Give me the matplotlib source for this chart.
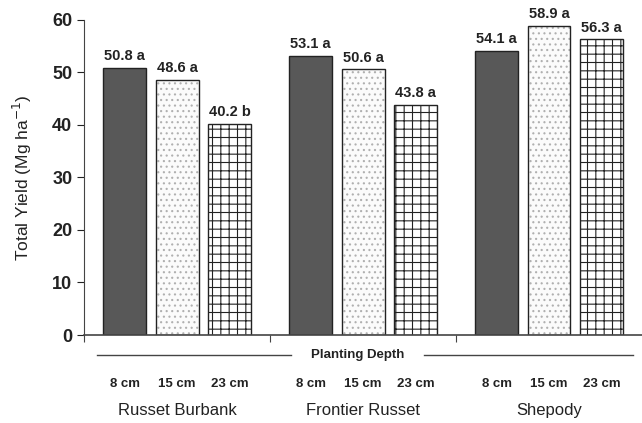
import matplotlib
matplotlib.use("Agg")
import matplotlib.pyplot as plt
import numpy as np

plt.rcParams['font.family'] = ['Liberation Sans', 'DejaVu Sans']
plt.rcParams['hatch.linewidth'] = 0.8

# data
cultivars = ["Russet Burbank", "Frontier Russet", "Shepody"]
depths = ["8 cm", "15 cm", "23 cm"]
yield_8 = [50.8, 53.1, 54.1]
yield_15 = [48.6, 50.6, 58.9]
yield_23 = [40.2, 43.8, 56.3]
letters_8 = ["a", "a", "a"]
letters_15 = ["a", "a", "a"]
letters_23 = ["b", "a", "a"]

fig = plt.figure(figsize=(6.42, 4.23), dpi=100)
ax = fig.add_axes([0.131, 0.208, 0.869, 0.745])

x = np.arange(len(cultivars))
width = 0.231
offsets = [-0.282, 0.0, 0.282]
series = [yield_8, yield_15, yield_23]
letters = [letters_8, letters_15, letters_23]
# estilo de cada profundidade
styles = [
    dict(facecolor="#585858", hatch=None, hc="#585858"),
    dict(facecolor="#fbfbfb", hatch="...", hc="#b0b0b0"),
    dict(facecolor="white", hatch="++", hc="#222222"),
]

for vals, lets, off, st in zip(series, letters, offsets, styles):
    bars = ax.bar(x + off, vals, width, facecolor=st["facecolor"],
                  edgecolor="#222222", linewidth=1.0)
    for b in bars:
        if st["hatch"]:
            b.set_hatch(st["hatch"])
            b._hatch_color = matplotlib.colors.to_rgba(st["hc"])
    for xi, v, l in zip(x + off, vals, lets):
        ax.text(xi, v + 0.9, f"{v:.1f} {l}", ha="center", va="bottom",
                fontsize=10.5, fontweight="bold", color="#222222")

ax.set_xlim(-0.5, 2.5)
ax.set_ylim(0, 60)
ax.set_yticks(range(0, 61, 10))
ax.set_xticks([-0.5, 0.5, 1.5])
ax.set_xticklabels([])
ax.tick_params(axis="y", direction="out", length=5, labelsize=13, colors="#222222")
ax.tick_params(axis="x", direction="out", length=5, colors="#444444")
for lab in ax.get_yticklabels():
    lab.set_fontweight("bold")
for s in ["top", "right"]:
    ax.spines[s].set_visible(False)
ax.spines["left"].set_color("#444444")
ax.spines["bottom"].set_color("#444444")
ax.spines["bottom"].set_linewidth(1.2)

ax.set_ylabel("Total Yield (Mg ha$^{-1}$)", fontsize=12.5, color="#222222", labelpad=13)

# Planting Depth line below axis
trans = ax.get_xaxis_transform()
ax.plot([-0.43, 0.61], [-0.065, -0.065], transform=trans, clip_on=False, color="#444444", lw=1)
ax.plot([1.33, 2.45], [-0.065, -0.065], transform=trans, clip_on=False, color="#444444", lw=1)
ax.text(0.97, -0.065, "Planting Depth", transform=trans, ha="center", va="center",
        fontsize=9.5, fontweight="bold", color="#222222")

for xi in x:
    for off, d in zip(offsets, depths):
        ax.text(xi + off, -0.155, d, transform=trans, ha="center", va="center",
                fontsize=9.5, fontweight="bold", color="#222222")
    ax.text(xi, -0.24, cultivars[xi], transform=trans, ha="center", va="center",
            fontsize=12, color="#222222")

fig.savefig("out.png", dpi=100)
